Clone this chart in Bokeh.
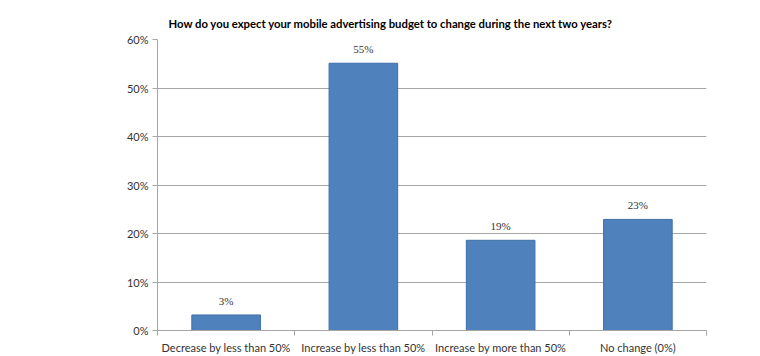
from bokeh.plotting import figure
from bokeh.models import ColumnDataSource, FixedTicker, Range1d, LabelSet
from bokeh.embed import file_html
from bokeh.resources import INLINE

categories = ["Decrease by less than 50%", "Increase by less than 50%",
              "Increase by more than 50%", "No change (0%)"]
values = [3.2, 55.1, 18.6, 22.9]
value_labels = ["3%", "55%", "19%", "23%"]
y_ticks = [0, 10, 20, 30, 40, 50, 60]
y_tick_labels = ["0%", "10%", "20%", "30%", "40%", "50%", "60%"]
title_text = "How do you expect your mobile advertising budget to change during the next two years?"

FONT = "Lato"
TXT = "#333333"
GRID = "#a6a6a6"

xpos = [i + 0.5 for i in range(len(categories))]
src = ColumnDataSource(dict(x=xpos, top=values, lab=value_labels))

p = figure(width=760, height=356, output_backend="svg", toolbar_location=None,
           x_range=Range1d(0, 4), y_range=Range1d(0, 60),
           min_border_left=157, min_border_right=54, min_border_top=39, min_border_bottom=25)
p.outline_line_color = None
p.background_fill_color = "white"
p.border_fill_color = "white"

p.title.text = title_text
p.title.align = "left"
p.title.offset = 11
p.title.standoff = 20
p.title.text_font = FONT
p.title.text_font_style = "bold"
p.title.text_font_size = "11.3px"
p.title.text_color = "#000000"

p.vbar(x="x", top="top", bottom=0, width=0.5, source=src,
       fill_color="#4F81BD", line_color="#3F6FA8", line_width=1)

labels = LabelSet(x="x", y="top", text="lab", source=src, text_align="center",
                  text_baseline="bottom", y_offset=8, text_font=FONT,
                  text_font_size="11px", text_color=TXT)
p.add_layout(labels)

# y axis
p.yaxis.ticker = FixedTicker(ticks=y_ticks)
p.yaxis.major_label_overrides = {t: l for t, l in zip(y_ticks, y_tick_labels)}
p.yaxis.major_label_text_font = FONT
p.yaxis.major_label_text_font_size = "11px"
p.yaxis.major_label_text_color = TXT
p.yaxis.axis_line_color = GRID
p.yaxis.major_tick_line_color = GRID
p.yaxis.major_tick_out = 5
p.yaxis.major_tick_in = 0
p.yaxis.minor_tick_line_color = None
p.yaxis.major_label_standoff = 4

# x axis
p.xaxis.ticker = FixedTicker(ticks=xpos, minor_ticks=[0, 1, 2, 3, 4])
p.xaxis.major_label_overrides = {x: c for x, c in zip(xpos, categories)}
p.xaxis.major_label_text_font = FONT
p.xaxis.major_label_text_font_size = "11px"
p.xaxis.major_label_text_color = TXT
p.xaxis.axis_line_color = GRID
p.xaxis.major_tick_line_color = None
p.xaxis.minor_tick_line_color = GRID
p.xaxis.minor_tick_out = 5
p.xaxis.minor_tick_in = 0
p.xaxis.major_label_standoff = 4

p.xgrid.grid_line_color = None
p.ygrid.grid_line_color = GRID
p.ygrid.grid_line_width = 1

open("out.html", "w").write(file_html(p, INLINE))
